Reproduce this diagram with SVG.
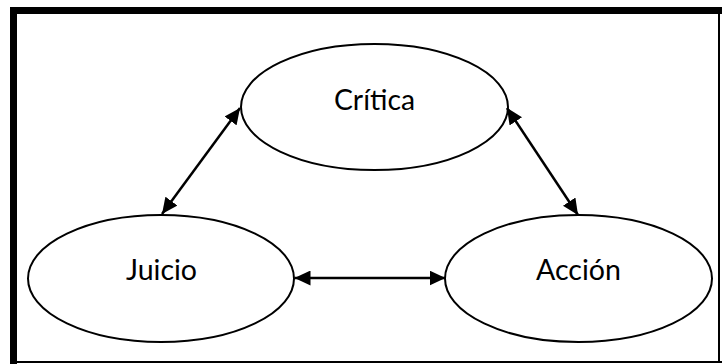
<svg xmlns="http://www.w3.org/2000/svg" width="722" height="364" viewBox="0 0 722 364">
<defs>
<style>
.node{fill:#fff;stroke:#000;stroke-width:2}
.lbl{font-family:Lato,"Open Sans","Liberation Sans",sans-serif;font-size:28px;fill:#000;text-anchor:middle}
.conn{stroke:#000;stroke-width:2.5;fill:none;marker-start:url(#ah);marker-end:url(#ah)}
</style>
<marker id="ah" markerUnits="userSpaceOnUse" markerWidth="17" markerHeight="15" refX="16" refY="7.5" orient="auto-start-reverse" viewBox="0 0 17 15">
<path d="M0,0 L16,7.5 L0,15 z" fill="#000"/>
</marker>
</defs>
<rect width="722" height="364" fill="#fff"/>
<g id="frame">
<rect x="10" y="7" width="712" height="7" fill="#000"/>
<rect x="10" y="7" width="7" height="357" fill="#000"/>
<rect x="10" y="361" width="712" height="2" fill="#000"/>
<rect x="718" y="7" width="2" height="356" fill="#000"/>
</g>
<g id="critica">
<ellipse class="node" cx="374.5" cy="107" rx="133.5" ry="63"/>
<text class="lbl" x="374.5" y="110" textLength="81" lengthAdjust="spacingAndGlyphs">Crítica</text>
</g>
<g id="juicio">
<ellipse class="node" cx="161" cy="278.5" rx="133" ry="63.5"/>
<text class="lbl" x="161.5" y="280" textLength="71" lengthAdjust="spacingAndGlyphs">Juicio</text>
</g>
<g id="accion">
<ellipse class="node" cx="578.5" cy="278.5" rx="133.5" ry="63.5"/>
<text class="lbl" x="578.5" y="280" textLength="85" lengthAdjust="spacingAndGlyphs">Acción</text>
</g>
<g id="connectors">
<line class="conn" x1="162" y1="214" x2="240" y2="108"/>
<line class="conn" x1="507" y1="108" x2="578" y2="215"/>
<line class="conn" x1="294.5" y1="278" x2="445.5" y2="278"/>
</g>
</svg>
